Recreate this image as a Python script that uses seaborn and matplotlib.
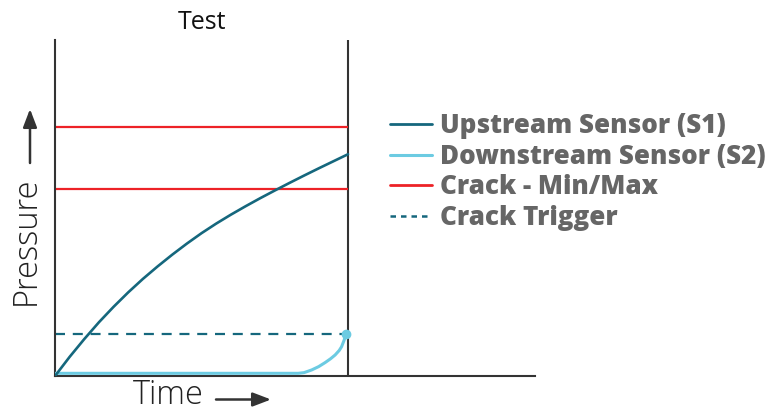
import matplotlib
matplotlib.use("Agg")
import matplotlib.pyplot as plt
from matplotlib.lines import Line2D
from matplotlib.patches import FancyArrowPatch
import seaborn as sns
import pandas as pd

# Upstream sensor (S1) pressure over the test window (normalised time / pressure)
s1_time = [0.0, 0.05, 0.10, 0.15, 0.20, 0.25, 0.30, 0.35, 0.40, 0.45, 0.50,
           0.55, 0.60, 0.65, 0.70, 0.75, 0.80, 0.85, 0.90, 0.95, 1.0]
s1_pressure = [0.0, 0.057, 0.110, 0.160, 0.206, 0.249, 0.289, 0.326, 0.361, 0.394, 0.425,
               0.4535, 0.480, 0.505, 0.529, 0.552, 0.5745, 0.5965, 0.618, 0.639, 0.660]

# Downstream sensor (S2) pressure
s2_time = [0.0, 0.830, 0.850, 0.876, 0.900, 0.922, 0.940, 0.956, 0.970, 0.978, 0.987, 0.992]
s2_pressure = [0.008, 0.008, 0.010, 0.018, 0.028, 0.040, 0.051, 0.0625, 0.076, 0.087, 0.107, 0.125]

# Crack pressure limits and trigger level
crack_limits = [0.557, 0.741]
crack_trigger = 0.125
test_end = 1.0

series_labels = ["Upstream Sensor (S1)", "Downstream Sensor (S2)", "Crack - Min/Max", "Crack Trigger"]

C_UP = "#15677d"
C_DOWN = "#6ccbe2"
C_RED = "#ed2227"
C_AXIS = "#333333"

sns.set_theme(style="white")
plt.rcParams["font.family"] = ["Open Sans", "DejaVu Sans"]

fig = plt.figure(figsize=(7.75, 4.12), dpi=100)
ax = fig.add_axes([55 / 775, 36 / 412, 480 / 775, 336 / 412])

df1 = pd.DataFrame({"t": s1_time, "p": s1_pressure})
df2 = pd.DataFrame({"t": s2_time, "p": s2_pressure})

ax.hlines(crack_limits, 0, test_end, color=C_RED, lw=1.6, zorder=2)
ax.hlines(crack_trigger, 0, s2_time[-1], color=C_UP, lw=1.6,
          linestyles=(0, (4.5, 3.5)), zorder=2)
sns.lineplot(data=df2, x="t", y="p", ax=ax, color=C_DOWN, lw=2.2, zorder=3)
sns.lineplot(data=df1, x="t", y="p", ax=ax, color=C_UP, lw=1.9, zorder=4)
ax.plot([s2_time[-1]], [s2_pressure[-1]], "o", color=C_DOWN, ms=6, zorder=5)

# end-of-test marker
ax.vlines(test_end, 0, 1, color=C_AXIS, lw=1.5, zorder=1)

ax.set_xlim(0, 480 / 293)
ax.set_ylim(0, 1)
ax.set_xticks([])
ax.set_yticks([])
ax.set_xlabel("")
ax.set_ylabel("")
for side in ("top", "right"):
    ax.spines[side].set_visible(False)
for side in ("left", "bottom"):
    ax.spines[side].set_color(C_AXIS)
    ax.spines[side].set_linewidth(1.5)

ax.text(test_end / 2, 1.033, "Test", ha="center", va="baseline",
        fontsize=18, color="#111111", clip_on=False)

# axis labels with arrows
arrow_style = "-|>,head_length=1.1,head_width=0.42"
fig.text(133 / 775, 1 - 404 / 412, "Time", ha="left", va="baseline",
         fontsize=23.5, fontweight="light", color="#222222")
fig.add_artist(FancyArrowPatch(
    (216 / 775, 1 - 399.5 / 412), (271 / 775, 1 - 399.5 / 412),
    transform=fig.transFigure, arrowstyle=arrow_style,
    color=C_AXIS, lw=1.8, mutation_scale=10, shrinkA=0, shrinkB=0))
fig.text(43 / 775, 1 - 241 / 412, "Pressure", ha="right", va="center",
         rotation=90, fontsize=23.5, fontweight="light", color="#222222")
fig.add_artist(FancyArrowPatch(
    (30 / 775, 1 - 163 / 412), (30 / 775, 1 - 109 / 412),
    transform=fig.transFigure, arrowstyle=arrow_style,
    color=C_AXIS, lw=1.8, mutation_scale=10, shrinkA=0, shrinkB=0))

handles = [
    Line2D([], [], color=C_UP, lw=2),
    Line2D([], [], color=C_DOWN, lw=2.2),
    Line2D([], [], color=C_RED, lw=2),
    Line2D([], [], color=C_UP, lw=1.8, linestyle=(0, (2.2, 2.0))),
]
leg = fig.legend(handles, series_labels, loc="upper left",
                 bbox_to_anchor=(390 / 775, 1 - 113 / 412),
                 frameon=False, handlelength=1.62, handletextpad=0.3,
                 labelspacing=0.18, borderaxespad=0, borderpad=0,
                 prop={"family": ["Open Sans", "DejaVu Sans"], "weight": 800, "size": 18.7})
for t in leg.get_texts():
    t.set_color("#666666")

fig.savefig("out.png", dpi=100)
